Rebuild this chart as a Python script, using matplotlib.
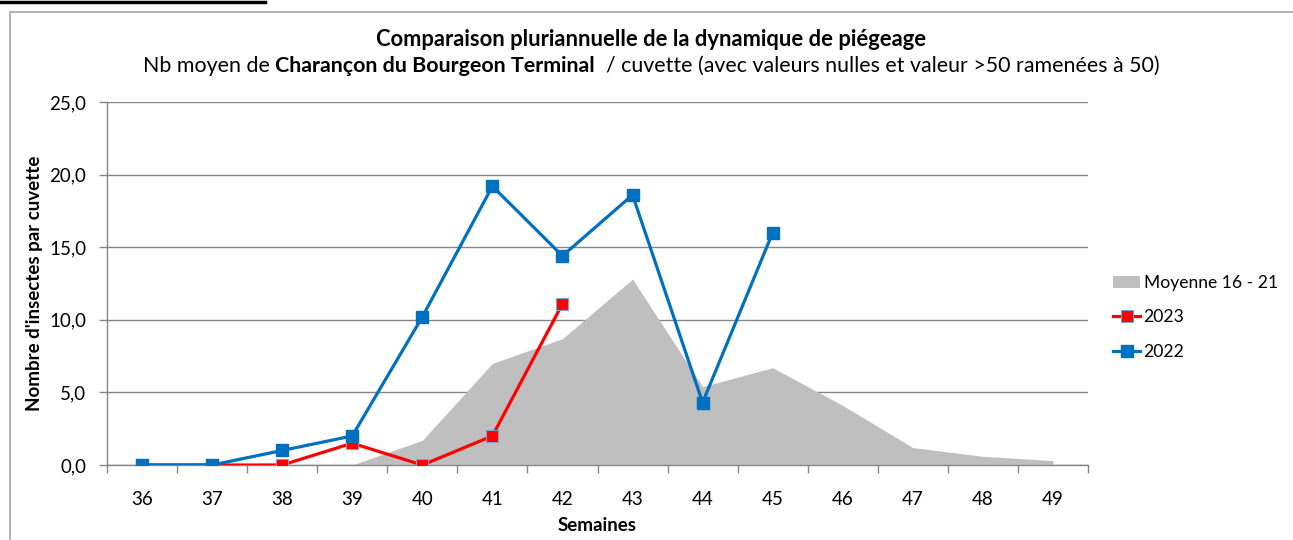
import matplotlib
matplotlib.use("Agg")
import matplotlib.pyplot as plt
from matplotlib.lines import Line2D
from matplotlib.patches import Patch, Rectangle
from matplotlib.ticker import FuncFormatter, FixedLocator

plt.rcParams['font.family'] = ['Lato', 'DejaVu Sans']

# données
semaines = list(range(36, 50))
moy_sem = [39, 40, 41, 42, 43, 44, 45, 46, 47, 48, 49]
moyenne = [0.0, 1.7, 7.0, 8.7, 12.8, 5.4, 6.7, 4.1, 1.2, 0.6, 0.3]
sem_2023 = [36, 37, 38, 39, 40, 41, 42]
val_2023 = [0.0, 0.0, 0.0, 1.5, 0.0, 2.0, 11.1]
sem_2022 = [36, 37, 38, 39, 40, 41, 42, 43, 44, 45]
val_2022 = [0.0, 0.0, 1.0, 2.0, 10.2, 19.2, 14.4, 18.6, 4.3, 16.0]

W, H = 1293, 540
fig = plt.figure(figsize=(W / 100, H / 100), dpi=100)
ax = fig.add_axes([107 / W, 1 - 465 / H, (1088 - 107) / W, (465 - 102) / H])

gris_axe = '#868686'
ax.fill_between(moy_sem, moyenne, 0, color='#BFBFBF', linewidth=0, zorder=2)
ax.plot(sem_2023, val_2023, color='#FF0000', lw=2.3, marker='s', ms=8,
        mfc='#FF0000', mec='#7F9FD0', mew=0.8, zorder=3)
ax.plot(sem_2022, val_2022, color='#0070C0', lw=2.3, marker='s', ms=8,
        mfc='#0070C0', mec='#0070C0', zorder=4)

ax.set_xlim(35.5, 49.5)
ax.set_ylim(0, 25)
ax.set_xticks(semaines)
ax.set_xticklabels([str(s) for s in semaines])
ax.xaxis.set_minor_locator(FixedLocator([s + 0.5 for s in range(35, 50)]))
ax.tick_params(axis='x', which='major', length=0, labelsize=13.5, pad=19)
ax.tick_params(axis='x', which='minor', length=6, color=gris_axe, width=1)
ax.set_yticks([0, 5, 10, 15, 20, 25])
ax.yaxis.set_major_formatter(FuncFormatter(lambda v, p: f"{v:.1f}".replace('.', ',')))
ax.tick_params(axis='y', length=6, color=gris_axe, width=1, labelsize=13.5, pad=9)
ax.grid(axis='y', color=gris_axe, lw=1, zorder=0)
ax.set_axisbelow(True)
for s in ['top', 'right']:
    ax.spines[s].set_visible(False)
for s in ['left', 'bottom']:
    ax.spines[s].set_color(gris_axe)
    ax.spines[s].set_linewidth(1)

ax.set_xlabel('Semaines', fontsize=13.5, fontweight='bold', labelpad=6)
ax.set_ylabel("Nombre d'insectes par cuvette", fontsize=13.5, fontweight='bold', labelpad=4)

# titre
fig.text(651 / W, 1 - 40 / H, 'Comparaison pluriannuelle de la dynamique de piégeage',
         ha='center', va='center', fontsize=15.8, fontweight='bold')

parts = [('Nb moyen de ', 'normal'), ('Charançon du Bourgeon Terminal', 'bold'),
         ('  / cuvette (avec valeurs nulles et valeur >50 ramenées à 50)', 'normal')]
renderer = fig.canvas.get_renderer()
txts = [fig.text(0, 1 - 66 / H, t, fontsize=15.4, fontweight=w, va='center', ha='left')
        for t, w in parts]
widths = [t.get_window_extent(renderer).width for t in txts]
x0 = 651 - sum(widths) / 2
for t, wd in zip(txts, widths):
    t.set_x(x0 / W)
    x0 += wd

# légende
handles = [Patch(facecolor='#BFBFBF', edgecolor='none'),
           Line2D([], [], color='#FF0000', lw=2.3, marker='s', ms=8, mfc='#FF0000', mec='#7F9FD0', mew=0.8),
           Line2D([], [], color='#0070C0', lw=2.3, marker='s', ms=8, mfc='#0070C0')]
fig.legend(handles, ['Moyenne 16 - 21', '2023', '2022'], loc='upper left',
           bbox_to_anchor=(1113 / W, 1 - 275 / H), frameon=False, fontsize=12.6,
           handlelength=1.55, handleheight=0.7, handletextpad=0.2, labelspacing=1.05,
           borderpad=0, borderaxespad=0)

# cadre et trait du haut
fig.patches.append(Rectangle((10 / W, -0.1), 1.2, 1 - 12 / H + 0.1, transform=fig.transFigure,
                             fill=False, edgecolor='#A6A6A6', lw=1.2))
fig.add_artist(Line2D([0, 265 / W], [1 - 2 / H, 1 - 2 / H], color='black', lw=2.5))

fig.savefig('out.png', dpi=100)
